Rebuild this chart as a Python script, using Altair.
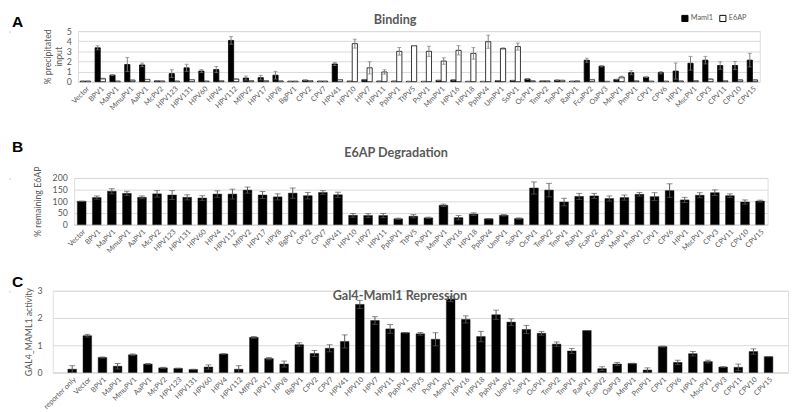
import altair as alt
import pandas as pd

cats = ["Vector", "BPV1", "MaPV1", "MmuPV1", "AaPV1", "McPV2", "HPV123", "HPV131", "HPV60", "HPV4",
        "HPV112", "MfPV2", "HPV17", "HPV8", "BgPV1", "CPV2", "CPV7", "HPV41", "HPV10", "HPV7",
        "HPV11", "PphPV1", "TtPV5", "PsPV1", "MmPV1", "HPV16", "HPV18", "PphPV4", "UmPV1", "SsPV1",
        "OcPV1", "TmPV2", "TmPV1", "RaPV1", "FcaPV2", "OaPV3", "MnPV1", "PmPV1", "CPV1", "CPV6",
        "HPV1", "MscPV1", "CPV3", "CPV11", "CPV10", "CPV15"]

# Panel A: binding (% precipitated input)
maml1 = [0.05, 3.35, 0.65, 1.7, 1.66, 0.08, 0.8, 1.37, 1.05, 1.2,
         4.08, 0.36, 0.4, 0.64, 0.04, 0.15, 0.05, 1.75, 0.05, 0.2,
         0.05, 0.05, 0.03, 0.03, 0.13, 0.17, 0.03, 0.03, 0.1, 0.12,
         0.27, 0.07, 0.15, 0.04, 2.12, 1.53, 0.22, 0.89, 0.45, 0.89,
         1.05, 1.82, 2.13, 1.6, 1.6, 2.13]
maml1_err = [0, 0.2, 0.05, 0.7, 0.18, 0, 0.38, 0.35, 0.15, 0.3,
             0.38, 0.2, 0.22, 0.38, 0, 0.02, 0, 0.15, 0, 0.03,
             0, 0, 0, 0, 0.02, 0.03, 0, 0, 0.02, 0.02,
             0.05, 0.01, 0.02, 0, 0.2, 0.07, 0.03, 0.2, 0.03, 0.12,
             0.8, 0.68, 0.37, 0.37, 0.4, 0.67]
e6ap = [0.05, 0.3, 0.05, 0.15, 0.22, 0.06, 0.05, 0.2, 0.05, 0.08,
        0.26, 0.1, 0.1, 0.07, 0.04, 0.1, 0.05, 0.2, 3.76, 1.37,
        0.96, 3.0, 3.56, 3.0, 2.04, 3.1, 2.8, 3.95, 3.28, 3.47,
        0.08, 0.07, 0.13, 0.06, 0.2, 0.03, 0.45, 0.07, 0.04, 0.04,
        0.06, 0.1, 0.25, 0.08, 0.18, 0.18]
e6ap_err = [0, 0.05, 0, 0.02, 0.02, 0, 0, 0.02, 0, 0,
            0.03, 0.02, 0.02, 0, 0, 0.02, 0, 0.02, 0.44, 0.6,
            0.22, 0.38, 0.02, 0.5, 0.32, 0.46, 0.57, 0.65, 0.07, 0.35,
            0.02, 0, 0.02, 0, 0.03, 0, 0.09, 0, 0, 0,
            0, 0.02, 0.04, 0, 0.02, 0.02]

# Panel B: % remaining E6AP
degr = [100, 116, 143, 134, 117, 132, 127, 117, 114, 131,
        131, 148, 127, 119, 135, 124, 138, 128, 40, 39,
        39, 25, 36, 29, 83, 30, 45, 25, 40, 26,
        157, 148, 97, 121, 123, 112, 116, 130, 120, 146,
        106, 126, 137, 124, 97, 101]
degr_err = [0, 7, 11, 9, 6, 14, 19, 11, 10, 14,
            21, 13, 15, 13, 22, 14, 8, 11, 8, 8,
            9, 3, 7, 3, 5, 9, 5.5, 1, 3, 3,
            26, 29, 16, 13, 11, 11, 11, 8, 17, 29,
            11, 11, 12, 8, 9, 4]

# Panel C: GAL4_MAML1 activity
gal4_cats = ["reporter only"] + cats
gal4 = [0.12, 1.35, 0.55, 0.23, 0.65, 0.31, 0.17, 0.15, 0.11, 0.2,
        0.68, 0.12, 1.29, 0.51, 0.31, 1.02, 0.7, 0.89, 1.14, 2.5,
        1.91, 1.6, 1.46, 1.42, 1.22, 2.7, 1.95, 1.32, 2.12, 1.85,
        1.58, 1.44, 1.04, 0.79, 1.54, 0.14, 0.31, 0.33, 0.09, 0.95,
        0.37, 0.69, 0.4, 0.2, 0.19, 0.77, 0.58]
gal4_err = [0.13, 0.05, 0.02, 0.1, 0.03, 0.02, 0.02, 0.01, 0.01, 0.08,
            0.01, 0.13, 0.03, 0.04, 0.11, 0.07, 0.11, 0.13, 0.24, 0.15,
            0.14, 0.16, 0.01, 0.05, 0.24, 0.1, 0.13, 0.19, 0.17, 0.12,
            0.15, 0.07, 0.08, 0.09, 0, 0.07, 0.06, 0.01, 0.08, 0.02,
            0.08, 0.08, 0.05, 0.01, 0.12, 0.1, 0]

FONT = "Lato"
GREY = "#595959"
GRID = "#d9d9d9"
ERR = "#7f7f7f"

rows = []
for c, v, e in zip(cats, maml1, maml1_err):
    rows.append(dict(cat=c, series="Maml1", value=v, lo=max(v - e, 0), hi=v + e))
for c, v, e in zip(cats, e6ap, e6ap_err):
    rows.append(dict(cat=c, series="E6AP", value=v, lo=max(v - e, 0), hi=v + e))
df_a = pd.DataFrame(rows)

df_b = pd.DataFrame(dict(cat=cats, value=degr,
                         lo=[max(v - e, 0) for v, e in zip(degr, degr_err)],
                         hi=[v + e for v, e in zip(degr, degr_err)]))
df_c = pd.DataFrame(dict(cat=gal4_cats, value=gal4,
                         lo=[max(v - e, 0) for v, e in zip(gal4, gal4_err)],
                         hi=[v + e for v, e in zip(gal4, gal4_err)]))


def xaxis():
    return alt.Axis(labelAngle=-45, labelFontSize=7.5, labelColor=GREY, labelFont=FONT,
                    ticks=False, domainColor=GRID, labelPadding=3, title=None, grid=False,
                    labelOverlap=False)


def ychan(field, domain, values, title, title_x, pad=7):
    axis = alt.Axis(values=values, tickCount=len(values), grid=True, gridColor=GRID,
                    domain=False, ticks=False,
                    labelColor=GREY, labelFontSize=9, labelFont=FONT, labelPadding=pad,
                    labelOverlap=False, labelFlush=False,
                    title=title, titleFontSize=9, titleColor=GREY, titleFont=FONT,
                    titleFontWeight="normal", titleX=title_x, titleAngle=-90,
                    titleAlign="center", titleBaseline="middle")
    return alt.Y(field, type="quantitative", scale=alt.Scale(domain=domain, nice=False), axis=axis)


def letter(t, dx, dy):
    return alt.Chart(pd.DataFrame({"t": [t]})).mark_text(
        align="left", baseline="top", fontSize=16, fontWeight="bold",
        font="Liberation Sans", color="black").encode(
        x=alt.value(dx), y=alt.value(dy), text="t:N")


def heading(t, dx, dy):
    return alt.Chart(pd.DataFrame({"t": [t]})).mark_text(
        align="center", baseline="middle", fontSize=13, fontWeight="bold",
        font=FONT, color=GREY).encode(
        x=alt.value(dx), y=alt.value(dy), text="t:N")


spacer = alt.Chart(pd.DataFrame({"v": [0]})).mark_rule(opacity=0).encode(
    x=alt.value(0), y=alt.value(0), y2=alt.value(1)).properties(width=1, height=1)

# ---------- Panel A ----------
WA, HA = 701, 52
A_Y = dict(domain=[0, 5], values=[0, 1, 2, 3, 4, 5], title=["% precipitated", "input"], title_x=-31)
xA = alt.X("cat:N", sort=cats, axis=xaxis(),
           scale=alt.Scale(paddingInner=0.3, paddingOuter=0.15))
xoA = alt.XOffset("series:N", sort=["Maml1", "E6AP"],
                  scale=alt.Scale(domain=["Maml1", "E6AP"], paddingInner=0, paddingOuter=0))
baseA = alt.Chart(df_a)
barsA = baseA.mark_bar(stroke="black", strokeWidth=0.8).encode(
    x=xA, xOffset=xoA, y=ychan("value", **A_Y),
    fill=alt.Fill("series:N", scale=alt.Scale(domain=["Maml1", "E6AP"], range=["black", "white"]),
                  legend=alt.Legend(orient="none", legendX=620, legendY=-17, direction="horizontal",
                                    title=None, symbolType="square", symbolSize=40,
                                    symbolStrokeColor="black", symbolStrokeWidth=1,
                                    labelFontSize=7.5, labelColor=GREY, labelFont=FONT,
                                    columnPadding=4, labelOffset=2, gridAlign="none",
                                    labelLimit=40, padding=0)))
errA = baseA.mark_rule(color=ERR, strokeWidth=1).encode(
    x=xA, xOffset=xoA, y=ychan("lo", **A_Y), y2="hi:Q")
capHiA = baseA.mark_tick(color=ERR, size=4, thickness=1).encode(
    x=xA, xOffset=xoA, y=ychan("hi", **A_Y))
capLoA = baseA.mark_tick(color=ERR, size=4, thickness=1).encode(
    x=xA, xOffset=xoA, y=ychan("lo", **A_Y))
panelA = alt.layer(barsA, errA, capHiA, capLoA, letter("A", -68, -17),
                   heading("Binding", 326, -11)).properties(width=WA, height=HA)

# ---------- Panel B ----------
WB, HB = 713, 48
B_Y = dict(domain=[0, 200], values=[0, 50, 100, 150, 200], title="% remaining E6AP", title_x=-38)
xB = alt.X("cat:N", sort=cats, axis=xaxis(),
           scale=alt.Scale(paddingInner=0.42, paddingOuter=0.21))
baseB = alt.Chart(df_b)
barsB = baseB.mark_bar(color="black", stroke="#222222", strokeWidth=0.5).encode(
    x=xB, y=ychan("value", **B_Y))
errB = baseB.mark_rule(color=GREY, strokeWidth=1).encode(x=xB, y=ychan("lo", **B_Y), y2="hi:Q")
capHiB = baseB.mark_tick(color=GREY, size=6, thickness=1).encode(x=xB, y=ychan("hi", **B_Y))
capLoB = baseB.mark_tick(color=GREY, size=6, thickness=1).encode(x=xB, y=ychan("lo", **B_Y))
panelB = alt.layer(barsB, errB, capHiB, capLoB, letter("B", -64, -40),
                   heading("E6AP Degradation", 331, -26)).properties(width=WB, height=HB)

# ---------- Panel C ----------
WC, HC = 756, 84
C_Y = dict(domain=[0, 3], values=[0, 1, 2, 3], title="GAL4_MAML1 activity", title_x=-25, pad=11)
xC = alt.X("cat:N", sort=gal4_cats, axis=xaxis(),
           scale=alt.Scale(paddingInner=0.43, paddingOuter=1.0))
baseC = alt.Chart(df_c)
barsC = baseC.mark_bar(color="black", stroke="#222222", strokeWidth=0.5).encode(
    x=xC, y=ychan("value", **C_Y))
errC = baseC.mark_rule(color=GREY, strokeWidth=1).encode(x=xC, y=ychan("lo", **C_Y), y2="hi:Q")
capHiC = baseC.mark_tick(color=GREY, size=6, thickness=1).encode(x=xC, y=ychan("hi", **C_Y))
capLoC = baseC.mark_tick(color=GREY, size=6, thickness=1).encode(x=xC, y=ychan("lo", **C_Y))
panelC = alt.layer(barsC, errC, capHiC, capLoC, letter("C", -42, -17),
                   heading("Gal4-Maml1 Repression", 357, 5)).properties(width=WC, height=HC)

rowA = alt.hconcat(spacer, panelA, spacing=0).resolve_scale(fill="independent")
rowB = alt.hconcat(spacer, panelB, spacing=0)
rowC = alt.hconcat(spacer, panelC, spacing=0)

lower = alt.vconcat(rowB, rowC, spacing=19)
chart = alt.vconcat(rowA, lower, spacing=27).resolve_scale(fill="independent").properties(
    padding=0
).configure_view(stroke=None).configure(font=FONT)

chart.save("out.html", embed_options={"renderer": "svg", "actions": False})
